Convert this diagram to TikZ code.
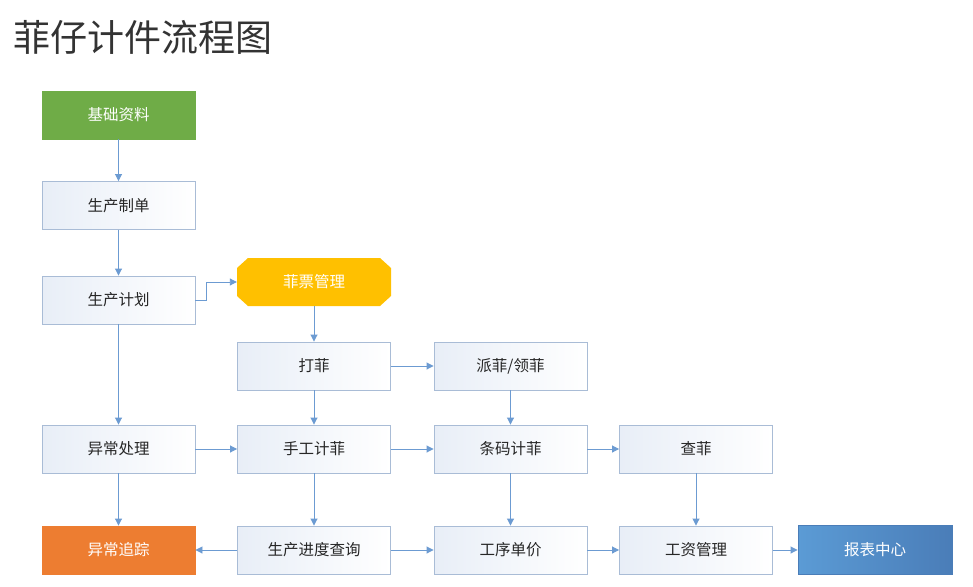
\documentclass[tikz,border=0pt]{standalone}
\usepackage{fontspec}
\setmainfont{Noto Sans CJK SC}
\usetikzlibrary{arrows.meta}
\definecolor{lnc}{HTML}{6C9BD2}
\definecolor{bdc}{HTML}{A9BCD6}
\definecolor{grn}{HTML}{6FAC47}
\definecolor{org}{HTML}{ED7D31}
\definecolor{ylw}{HTML}{FFC000}
\definecolor{blu1}{HTML}{5B9BD5}
\definecolor{blu2}{HTML}{4A7DB8}
\definecolor{txt}{HTML}{262626}
\definecolor{shd}{HTML}{E8EEF7}
\tikzset{
  box/.style={draw=bdc, line width=0.9pt, left color=shd, right color=white,
    minimum width=153pt, minimum height=48pt, inner sep=0pt, font=\fontsize{15.5}{18}\selectfont, text=txt},
  cbox/.style={draw=#1, fill=#1, line width=0.9pt, minimum width=153pt, minimum height=48pt,
    inner sep=0pt, font=\fontsize{15.5}{18}\selectfont, text=white},
  ghost/.style={minimum width=154pt, minimum height=48pt, inner sep=0pt, font=\fontsize{15.5}{18}\selectfont, text=white},
  arr/.style={draw=lnc, line width=0.9pt, -{Triangle[length=7pt,width=7pt]}}
}
\begin{document}
\begin{tikzpicture}[x=1pt,y=-1pt]
\useasboundingbox (0,0) rectangle (973,586);
\fill[white] (0,0) rectangle (973,586);
\node[anchor=west, font=\fontsize{37}{42}\selectfont, text=black!80, inner sep=0pt] (title) at (13,37) {菲仔计件流程图};

% column 1
\node[cbox=grn] (jc) at (118.5,115) {基础资料};
\node[box] (zd) at (118.5,205.5) {生产制单};
\node[box] (jh) at (118.5,300) {生产计划};
\node[box] (yc) at (118.5,449) {异常处理};
\node[cbox=org] (zz) at (118.5,550) {异常追踪};

% octagon
\fill[ylw] (248,258) -- (380,258) -- (391,268) -- (391,296) -- (380,306) -- (248,306) -- (237,296) -- (237,268) -- cycle;
\node[ghost] (fp) at (314,282) {菲票管理};

% column 2
\node[box] (df) at (314,366) {打菲};
\node[box] (sg) at (314,449) {手工计菲};
\node[box] (jd) at (314,550) {生产进度查询};

% column 3
\node[box] (pf) at (510.5,366) {派菲/领菲};
\node[box] (tm) at (510.5,449) {条码计菲};
\node[box] (gx) at (510.5,550) {工序单价};

% column 4
\node[box] (cf) at (696,449) {查菲};
\node[box] (gz) at (696,550) {工资管理};

% report center
\node[draw=blu2, line width=0.9pt, left color=blu1, right color=blu2, minimum width=154pt, minimum height=49pt,
  inner sep=0pt, font=\fontsize{15.5}{18}\selectfont, text=white] (bb) at (875,550) {报表中心};

% connectors
\draw[arr] (jc) -- (zd);
\draw[arr] (zd) -- (jh);
\draw[arr] (jh) -- (yc);
\draw[arr] (jh.east) -- ++(11,0) |- (fp.west);
\draw[arr] (fp) -- (df);
\draw[arr] (df) -- (pf);
\draw[arr] (df) -- (sg);
\draw[arr] (pf) -- (tm);
\draw[arr] (yc) -- (sg);
\draw[arr] (sg) -- (tm);
\draw[arr] (tm) -- (cf);
\draw[arr] (yc) -- (zz);
\draw[arr] (sg) -- (jd);
\draw[arr] (tm) -- (gx);
\draw[arr] (cf) -- (gz);
\draw[arr] (jd) -- (zz);
\draw[arr] (jd) -- (gx);
\draw[arr] (gx) -- (gz);
\draw[arr] (gz) -- (bb);
\end{tikzpicture}
\end{document}
